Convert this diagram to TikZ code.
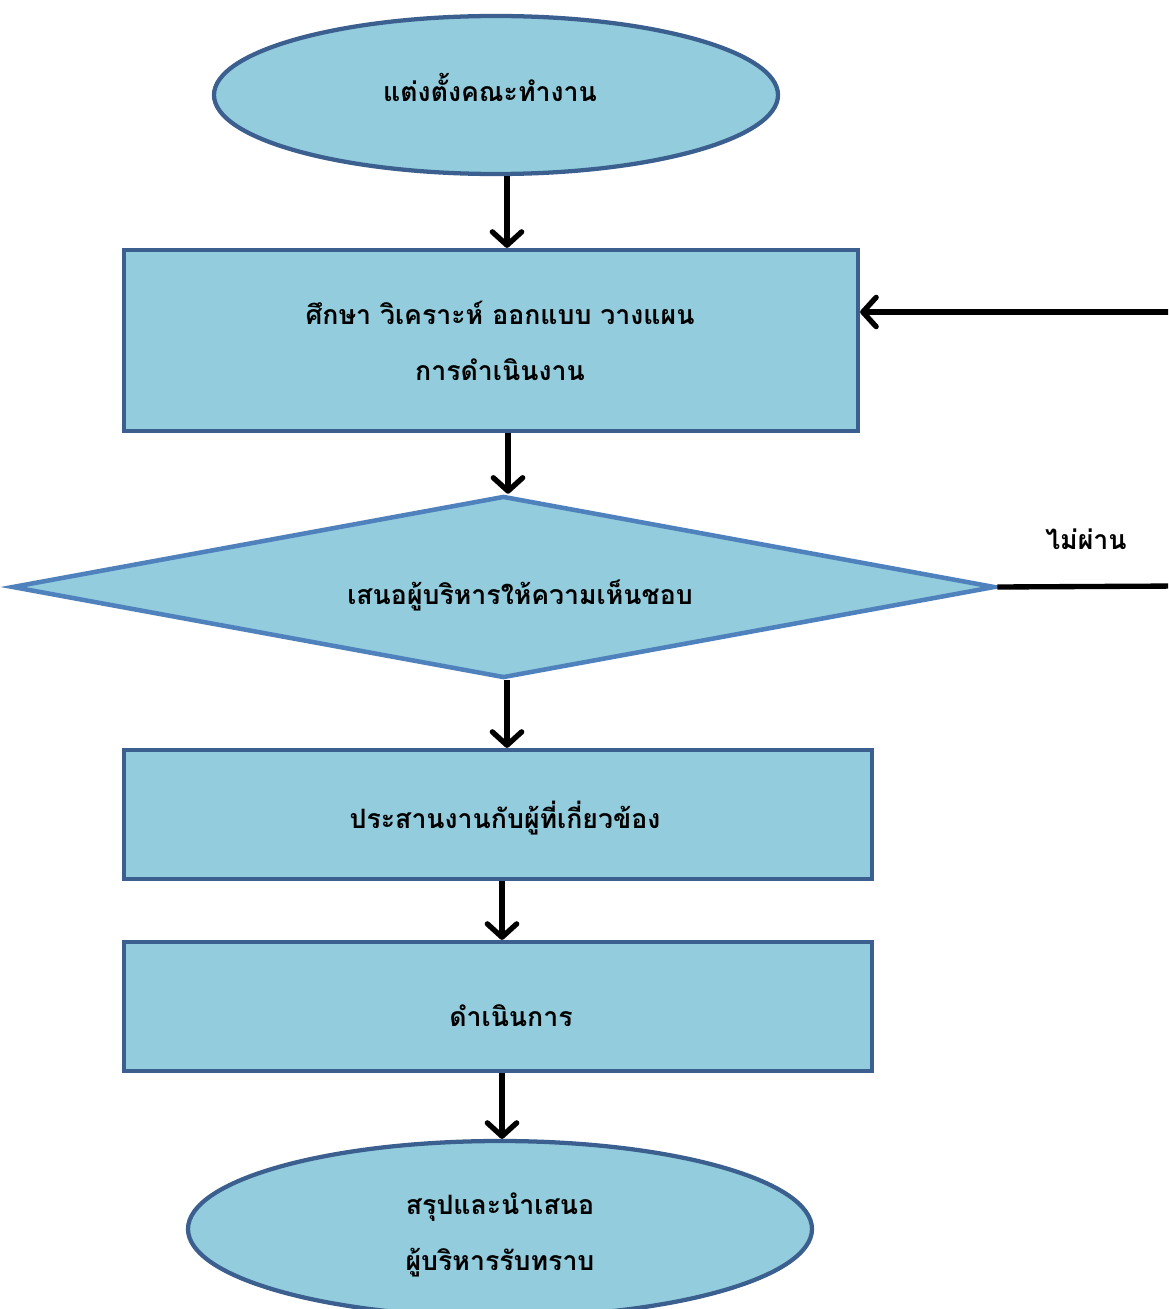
\documentclass[tikz,border=0pt]{standalone}
\usepackage{fontspec}
\newfontfamily\thaifont[Script=Thai]{Loma}
\usetikzlibrary{shapes.geometric,arrows.meta}
\definecolor{boxfill}{HTML}{93CDDD}
\definecolor{boxline}{HTML}{3B5F8E}
\definecolor{diaLine}{HTML}{4F81BD}
\tikzset{
  flowtext/.style={font=\thaifont\bfseries\fontsize{20}{42}\selectfont, align=center, text=black, inner sep=0pt},
  ovalbox/.style={ellipse, draw=boxline, fill=boxfill, line width=3.2pt, inner sep=0pt},
  rectbox/.style={rectangle, draw=boxline, fill=boxfill, line width=3.2pt, inner sep=0pt},
  decbox/.style={diamond, draw=diaLine, fill=boxfill, line width=3.4pt, inner sep=0pt, aspect=5.4},
  flowline/.style={line width=4pt, black},
  flowarrow/.style={flowline, -{Straight Barb[length=10pt,width=22pt,round]}},
}
\begin{document}
\begin{tikzpicture}[x=0.75pt,y=-0.75pt]
\useasboundingbox (0,0) rectangle (1168,1309);
\clip (0,0) rectangle (1168,1309);
\fill[white] (0,0) rectangle (1168,1309);

\node[ovalbox, minimum width=423pt, minimum height=118.5pt] (e1) at (496,95) {};
\node[rectbox, minimum width=550.5pt, minimum height=135.75pt] (r1) at (491,340.5) {};
\node[decbox, minimum width=737.25pt, minimum height=136.5pt] (d) at (503.5,587) {};
\node[rectbox, minimum width=561pt, minimum height=96.75pt] (r2) at (498,814.5) {};
\node[rectbox, minimum width=561pt, minimum height=96.75pt] (r3) at (498,1006.5) {};
\node[ovalbox, minimum width=468pt, minimum height=132pt] (e2) at (500,1229) {};

\node[flowtext] (e1t) at (490,87) {แต่งตั้งคณะทำงาน};
\node[flowtext] (r1t) at (500,340.5) {ศึกษา วิเคราะห์ ออกแบบ วางแผน\\การดำเนินงาน};
\node[flowtext] (dt) at (520,595) {เสนอผู้บริหารให้ความเห็นชอบ};
\node[flowtext] (r2t) at (505,818.5) {ประสานงานกับผู้ที่เกี่ยวข้อง};
\node[flowtext] (r3t) at (511,1015.5) {ดำเนินการ};
\node[flowtext] (e2t) at (500,1235) {สรุปและนำเสนอ\\ผู้บริหารรับทราบ};

\node[flowtext] (no) at (1086,539) {ไม่ผ่าน};

\coordinate (c1) at (507,0);
\coordinate (c2) at (508,0);
\coordinate (c3) at (502,0);
\coordinate (fbR) at (1180,586);
\coordinate (fbT) at (1180,312);

\draw[flowarrow] (e1.south -| c1) -- (r1.north -| c1);
\draw[flowarrow] (r1.south -| c2) -- (d.north -| c2);
\draw[flowarrow] (d.south -| c1) -- (r2.north -| c1);
\draw[flowarrow] (r2.south -| c3) -- (r3.north -| c3);
\draw[flowarrow] (r3.south -| c3) -- (e2.north -| c3);
\draw[flowline] (d.east) -- (fbR);
\draw[flowarrow] (fbT) -- (fbT -| r1.east);
\end{tikzpicture}
\end{document}
